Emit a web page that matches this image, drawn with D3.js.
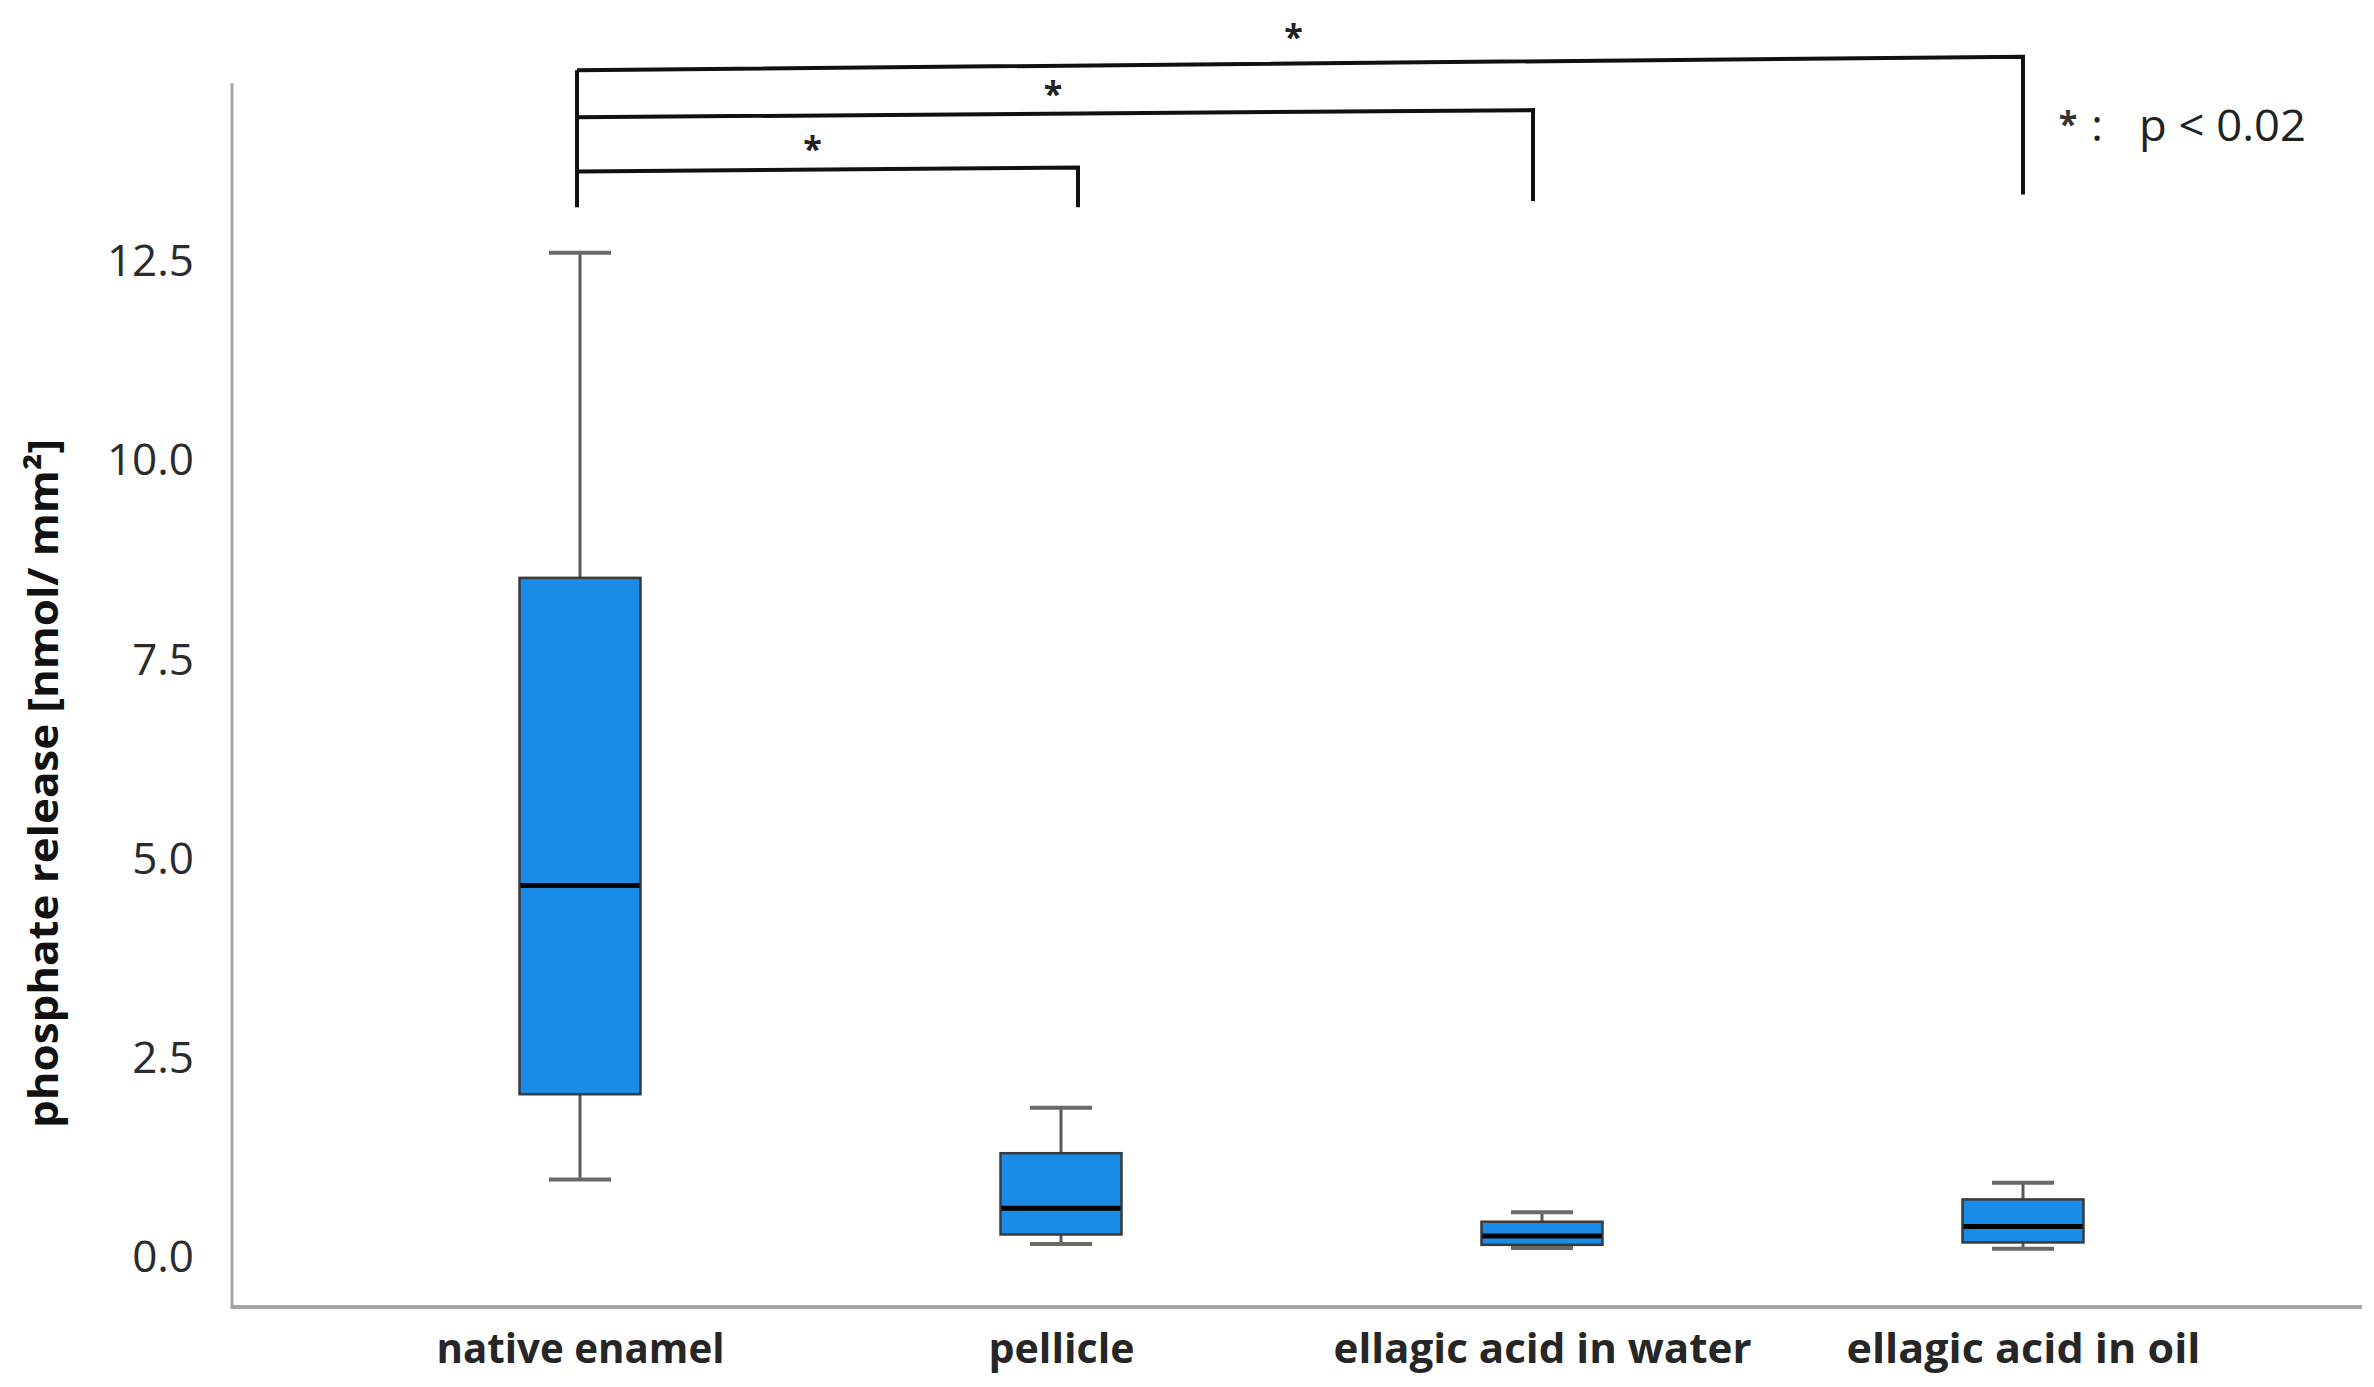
<!DOCTYPE html>
<html>
<head>
<meta charset="utf-8">
<script src="https://cdn.jsdelivr.net/npm/d3@7"></script>
<style>
  html, body { margin: 0; padding: 0; background: #ffffff; }
  svg { display: block; }
</style>
</head>
<body>
<svg id="chart" width="2374" height="1387"></svg>
<script>
// ---- data ----
const categories = ["native enamel", "pellicle", "ellagic acid in water", "ellagic acid in oil"];
const whiskerLow  = [0.97, 0.16, 0.11, 0.10];
const q1          = [2.04, 0.28, 0.15, 0.18];
const median      = [4.66, 0.61, 0.26, 0.38];
const q3          = [8.52, 1.30, 0.44, 0.72];
const whiskerHigh = [12.6, 1.87, 0.56, 0.93];
const yTicks = [0, 2.5, 5, 7.5, 10, 12.5];
const yTitle = "phosphate release [nmol/ mm²]";

// significance brackets (values in data units)
const bracketFrom   = ["native enamel", "native enamel", "native enamel"];
const bracketTo     = ["pellicle", "ellagic acid in water", "ellagic acid in oil"];
const bracketLeftY  = [13.62, 14.30, 14.89];
const bracketRightY = [13.67, 14.39, 15.06];
const bracketFoot   = [13.17, 13.25, 13.33];
const bracketLabel  = ["*", "*", "*"];
const legendText = "p < 0.02";

// ---- layout ----
const svg = d3.select("#chart");
const plotLeft = 232, plotRight = 2362, plotTop = 83, plotBottom = 1307;
const bracketEndShift = [17, -9, 0];   // hand-drawn bracket ends, px
const starLift = [8, 8, 14];

const x = d3.scalePoint().domain(categories).range([580, 2023]);
const y = d3.scaleLinear().domain([-0.63, 14.73]).range([plotBottom, plotTop]);

const boxW = 121, capW = 62;
const boxes = categories.map((c, i) => ({
  cat: c, lo: whiskerLow[i], q1: q1[i], med: median[i], q3: q3[i], hi: whiskerHigh[i]
}));

// axes lines
svg.append("line")
  .attr("x1", plotLeft).attr("x2", plotLeft)
  .attr("y1", plotTop).attr("y2", plotBottom)
  .attr("stroke", "#a6a6a6").attr("stroke-width", 3);
svg.append("line")
  .attr("x1", plotLeft - 1.5).attr("x2", plotRight)
  .attr("y1", plotBottom).attr("y2", plotBottom)
  .attr("stroke", "#a6a6a6").attr("stroke-width", 4);

// y axis labels (via d3 axis, no ticks / domain)
const yAxis = d3.axisLeft(y).tickValues(yTicks).tickFormat(d3.format(".1f")).tickSize(0).tickPadding(0);
const gy = svg.append("g").attr("transform", `translate(${plotLeft - 38},0)`).call(yAxis);
gy.select(".domain").remove();
gy.selectAll("text")
  .attr("font-family", "'Open Sans', sans-serif")
  .attr("font-size", 44)
  .attr("fill", "#2b2b2b")
  .attr("dy", "0.34em");

// x axis labels
const xAxis = d3.axisBottom(x).tickSize(0).tickPadding(0);
const gx = svg.append("g").attr("transform", `translate(0,${plotBottom})`).call(xAxis);
gx.select(".domain").remove();
const labelWidths = [288, 146, 418, 354];
gx.selectAll("text")
  .attr("font-family", "'Open Sans', sans-serif")
  .attr("font-weight", "bold")
  .attr("font-size", 42)
  .attr("fill", "#262626")
  .attr("y", 0)
  .attr("dy", 56)
  .attr("textLength", (d, i) => labelWidths[i])
  .attr("lengthAdjust", "spacingAndGlyphs");

// y title
svg.append("text")
  .attr("transform", `translate(41,${(439 + 1128) / 2}) rotate(-90)`)
  .attr("text-anchor", "middle")
  .attr("dominant-baseline", "central")
  .attr("font-family", "'Liberation Sans Narrow', 'Open Sans', sans-serif")
  .attr("font-weight", "bold")
  .attr("font-size", 42)
  .attr("fill", "#111")
  .attr("textLength", 689)
  .attr("lengthAdjust", "spacingAndGlyphs")
  .text(yTitle);

// boxes
const gb = svg.append("g");
const bg = gb.selectAll("g.box").data(boxes).join("g").attr("class", "box");
// whiskers
bg.append("line")
  .attr("x1", d => x(d.cat)).attr("x2", d => x(d.cat))
  .attr("y1", d => y(d.hi)).attr("y2", d => y(d.q3))
  .attr("stroke", "#5a5a5a").attr("stroke-width", 3);
bg.append("line")
  .attr("x1", d => x(d.cat)).attr("x2", d => x(d.cat))
  .attr("y1", d => y(d.q1)).attr("y2", d => y(d.lo))
  .attr("stroke", "#5a5a5a").attr("stroke-width", 3);
bg.append("line")
  .attr("x1", d => x(d.cat) - capW / 2).attr("x2", d => x(d.cat) + capW / 2)
  .attr("y1", d => y(d.hi)).attr("y2", d => y(d.hi))
  .attr("stroke", "#6a6a6a").attr("stroke-width", 4);
bg.append("line")
  .attr("x1", d => x(d.cat) - capW / 2).attr("x2", d => x(d.cat) + capW / 2)
  .attr("y1", d => y(d.lo)).attr("y2", d => y(d.lo))
  .attr("stroke", "#6a6a6a").attr("stroke-width", 4);
// box
bg.append("rect")
  .attr("x", d => x(d.cat) - boxW / 2)
  .attr("width", boxW)
  .attr("y", d => y(d.q3))
  .attr("height", d => y(d.q1) - y(d.q3))
  .attr("fill", "#1a8be6")
  .attr("stroke", "#3a3a3a").attr("stroke-width", 2.5);
// median
bg.append("line")
  .attr("x1", d => x(d.cat) - boxW / 2 + 1).attr("x2", d => x(d.cat) + boxW / 2 - 1)
  .attr("y1", d => y(d.med)).attr("y2", d => y(d.med))
  .attr("stroke", "#000").attr("stroke-width", 5);

// significance brackets
const brackets = bracketFrom.map((f, i) => ({
  from: f, to: bracketTo[i], yl: bracketLeftY[i], yr: bracketRightY[i], foot: bracketFoot[i],
  label: bracketLabel[i], shift: bracketEndShift[i], lift: starLift[i]
}));
const gs = svg.append("g");
// shared left leg
gs.append("line")
  .attr("x1", x(bracketFrom[0]) - 3).attr("x2", x(bracketFrom[0]) - 3)
  .attr("y1", y(d3.max(bracketLeftY))).attr("y2", y(d3.min(bracketFoot)))
  .attr("stroke", "#111").attr("stroke-width", 4);
gs.selectAll("path.br").data(brackets).join("path")
  .attr("class", "br")
  .attr("d", d => `M${x(d.from) - 3},${y(d.yl)} L${x(d.to) + d.shift},${y(d.yr)} L${x(d.to) + d.shift},${y(d.foot)}`)
  .attr("fill", "none")
  .attr("stroke", "#111").attr("stroke-width", 4);
gs.selectAll("text.star").data(brackets).join("text")
  .attr("class", "star")
  .attr("x", d => (x(d.from) + x(d.to)) / 2 - 8)
  .attr("y", d => (y(d.yl) + y(d.yr)) / 2 - d.lift)
  .attr("text-anchor", "middle")
  .attr("font-family", "'Open Sans', sans-serif")
  .attr("font-weight", "bold")
  .attr("font-size", 34)
  .attr("fill", "#222")
  .text(d => d.label);

// legend
const lg = svg.append("g");
lg.append("text")
  .attr("x", 2068).attr("y", 136)
  .attr("text-anchor", "middle")
  .attr("font-family", "'Open Sans', sans-serif")
  .attr("font-weight", "bold")
  .attr("font-size", 34)
  .attr("fill", "#333")
  .text("*");
lg.append("text")
  .attr("x", 2097).attr("y", 141)
  .attr("text-anchor", "middle")
  .attr("font-family", "'Open Sans', sans-serif")
  .attr("font-size", 44)
  .attr("fill", "#222")
  .text(":");
lg.append("text")
  .attr("x", 2139).attr("y", 141)
  .attr("font-family", "'Open Sans', sans-serif")
  .attr("font-size", 44)
  .attr("fill", "#222")
  .attr("textLength", 167)
  .attr("lengthAdjust", "spacingAndGlyphs")
  .text(legendText);
</script>
</body>
</html>
